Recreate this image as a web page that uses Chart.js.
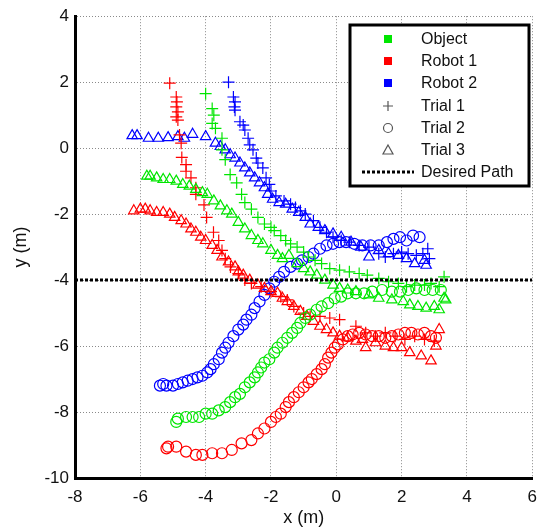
<!DOCTYPE html>
<html>
<head>
<meta charset="utf-8">
<script src="https://cdn.jsdelivr.net/npm/chart.js@4.4.1/dist/chart.umd.min.js"></script>
<style>
  html, body { margin: 0; padding: 0; background: #fff; }
  #wrap { width: 546px; height: 529px; }
</style>
</head>
<body>
<div id="wrap"><canvas id="trajChart"></canvas></div>
<script>
// Axis ticks
const xTicks = [-8, -6, -4, -2, 0, 2, 4, 6];
const yTicks = [-10, -8, -6, -4, -2, 0, 2, 4];
const desiredPathY = -4;

// Object (green) - trials 1..3, [x, y] in metres
const objTrial1 = [[-4.0,1.65],[-3.8,1.2],[-3.75,1.0],[-3.8,0.75],[-3.7,0.6],[-3.5,0.3],[-3.5,-0.05],[-3.4,-0.35],[-3.25,-0.8],[-3.05,-1.05],[-2.9,-1.4],[-2.8,-1.65],[-2.6,-1.85],[-2.4,-2.1],[-2.2,-2.3],[-2.0,-2.4],[-1.9,-2.5],[-1.7,-2.65],[-1.55,-2.8],[-1.4,-2.9],[-1.2,-3.0],[-1.0,-3.15],[-0.85,-3.3],[-0.65,-3.4],[-0.45,-3.5],[-0.2,-3.65],[0.1,-3.7],[0.4,-3.75],[0.7,-3.8],[0.95,-3.85],[1.3,-3.95],[1.6,-4.05],[1.9,-4.1],[2.15,-4.2],[2.4,-4.15],[2.7,-4.15],[2.9,-4.1],[3.15,-4.2],[3.3,-3.9]];
const objTrial2 = [[-4.9,-8.3],[-4.85,-8.2],[-4.6,-8.15],[-4.4,-8.15],[-4.2,-8.15],[-4.0,-8.05],[-3.8,-8.05],[-3.6,-7.95],[-3.4,-7.85],[-3.25,-7.7],[-3.1,-7.55],[-2.95,-7.45],[-2.8,-7.25],[-2.65,-7.1],[-2.5,-6.95],[-2.4,-6.8],[-2.3,-6.65],[-2.2,-6.5],[-2.05,-6.4],[-1.9,-6.2],[-1.8,-6.05],[-1.65,-5.9],[-1.5,-5.75],[-1.35,-5.6],[-1.2,-5.45],[-1.1,-5.3],[-0.95,-5.15],[-0.8,-5.05],[-0.6,-4.9],[-0.45,-4.8],[-0.25,-4.7],[-0.05,-4.55],[0.15,-4.5],[0.35,-4.4],[0.6,-4.4],[0.85,-4.4],[1.1,-4.35],[1.4,-4.3],[1.7,-4.35],[1.95,-4.35],[2.2,-4.3],[2.45,-4.25],[2.7,-4.3],[2.95,-4.3],[3.2,-4.3]];
const objTrial3 = [[-5.8,-0.85],[-5.7,-0.85],[-5.5,-0.9],[-5.3,-0.95],[-5.1,-0.95],[-4.9,-1.0],[-4.7,-1.1],[-4.5,-1.15],[-4.3,-1.25],[-4.1,-1.35],[-3.95,-1.4],[-3.75,-1.6],[-3.55,-1.75],[-3.35,-1.9],[-3.2,-2.0],[-3.0,-2.25],[-2.8,-2.45],[-2.6,-2.65],[-2.4,-2.8],[-2.25,-2.9],[-2.0,-3.1],[-1.8,-3.25],[-1.65,-3.35],[-1.45,-3.25],[-1.2,-3.5],[-1.0,-3.65],[-0.8,-3.75],[-0.6,-3.85],[-0.35,-4.0],[-0.1,-4.15],[0.1,-4.25],[0.35,-4.3],[0.6,-4.35],[1.0,-4.45],[1.3,-4.55],[1.7,-4.6],[2.05,-4.65],[2.25,-4.75],[2.5,-4.8],[2.75,-4.85],[3.0,-4.8],[3.15,-4.9],[3.3,-4.55],[3.35,-4.6]];

// Robot 1 (red)
const r1Trial1 = [[-5.1,1.97],[-4.9,1.55],[-4.88,1.4],[-4.9,1.25],[-4.85,1.1],[-4.9,0.95],[-4.85,0.85],[-4.8,0.4],[-4.75,0.15],[-4.73,-0.28],[-4.6,-0.5],[-4.6,-0.7],[-4.45,-0.9],[-4.3,-1.2],[-4.3,-1.4],[-4.05,-1.72],[-3.97,-2.1],[-3.76,-2.55],[-3.6,-2.8],[-3.5,-3.1],[-3.4,-3.35],[-3.24,-3.6],[-3.0,-3.8],[-2.8,-4.0],[-2.6,-4.1],[-2.3,-4.2],[-2.0,-4.35],[-1.7,-4.5],[-1.5,-4.6],[-1.3,-4.8],[-1.0,-5.0],[-0.8,-5.1],[-0.5,-5.1],[-0.2,-5.15],[0.1,-5.2],[0.6,-5.4],[0.9,-5.6],[1.2,-5.7],[1.5,-5.6],[1.8,-5.7],[2.1,-5.8],[2.4,-5.7],[2.7,-5.8],[3.0,-5.85]];
const r1Trial2 = [[-5.2,-9.1],[-5.15,-9.05],[-4.9,-9.05],[-4.6,-9.2],[-4.3,-9.3],[-4.1,-9.3],[-3.8,-9.25],[-3.5,-9.25],[-3.2,-9.15],[-2.9,-8.95],[-2.6,-8.85],[-2.4,-8.65],[-2.2,-8.5],[-2.0,-8.3],[-1.85,-8.15],[-1.7,-8.05],[-1.55,-7.85],[-1.45,-7.7],[-1.3,-7.55],[-1.15,-7.4],[-1.0,-7.25],[-0.85,-7.1],[-0.75,-7.0],[-0.6,-6.85],[-0.45,-6.7],[-0.35,-6.55],[-0.25,-6.35],[-0.15,-6.2],[-0.05,-6.05],[0.05,-5.95],[0.2,-5.8],[0.35,-5.7],[0.5,-5.65],[0.7,-5.6],[0.9,-5.65],[1.1,-5.7],[1.3,-5.7],[1.5,-5.75],[1.7,-5.7],[1.9,-5.65],[2.1,-5.6],[2.3,-5.6],[2.5,-5.65],[2.7,-5.6],[2.9,-5.7],[3.05,-5.75]];
const r1Trial3 = [[-6.2,-1.9],[-6.0,-1.85],[-5.85,-1.85],[-5.7,-1.9],[-5.5,-1.95],[-5.3,-1.95],[-5.1,-2.0],[-4.95,-2.1],[-4.75,-2.2],[-4.6,-2.3],[-4.45,-2.45],[-4.3,-2.55],[-4.15,-2.7],[-4.0,-2.8],[-3.8,-2.95],[-3.65,-3.1],[-3.5,-3.3],[-3.3,-3.45],[-3.1,-3.6],[-3.0,-3.75],[-2.85,-3.85],[-2.65,-4.0],[-2.4,-4.15],[-2.2,-4.25],[-2.0,-4.35],[-1.8,-4.4],[-1.65,-4.55],[-1.5,-4.65],[-1.3,-4.8],[-1.1,-4.95],[-0.9,-5.1],[-0.7,-5.25],[-0.5,-5.4],[-0.3,-5.5],[-0.1,-5.6],[0.1,-5.7],[0.35,-5.75],[0.6,-5.85],[0.8,-5.8],[0.9,-6.05],[1.2,-5.9],[1.5,-6.0],[1.75,-6.05],[2.0,-6.05],[2.25,-6.2],[2.6,-6.3],[2.9,-6.45],[3.05,-6.0],[3.15,-5.5]];

// Robot 2 (blue)
const r2Trial1 = [[-3.3,2.0],[-3.15,1.55],[-3.1,1.4],[-3.12,1.25],[-3.1,1.15],[-2.95,0.8],[-2.85,0.7],[-2.8,0.55],[-2.7,0.3],[-2.65,0.1],[-2.55,-0.05],[-2.45,-0.3],[-2.4,-0.45],[-2.25,-0.6],[-2.15,-0.9],[-2.05,-1.1],[-2.0,-1.3],[-1.85,-1.45],[-1.6,-1.6],[-1.4,-1.7],[-1.25,-1.8],[-1.1,-1.9],[-0.95,-2.0],[-0.7,-2.2],[-0.5,-2.4],[-0.3,-2.55],[-0.1,-2.7],[0.15,-2.8],[0.4,-2.85],[0.7,-2.95],[1.0,-3.0],[1.3,-3.2],[1.5,-3.3],[1.75,-3.2],[2.0,-3.15],[2.2,-3.2],[2.45,-3.25],[2.65,-3.2],[2.8,-3.05],[2.85,-3.35]];
const r2Trial2 = [[-5.4,-7.2],[-5.3,-7.15],[-5.2,-7.2],[-5.0,-7.2],[-4.85,-7.15],[-4.7,-7.1],[-4.55,-7.05],[-4.4,-7.0],[-4.25,-6.95],[-4.1,-6.9],[-3.95,-6.8],[-3.85,-6.7],[-3.75,-6.55],[-3.6,-6.4],[-3.5,-6.2],[-3.4,-6.05],[-3.3,-5.9],[-3.15,-5.7],[-3.0,-5.5],[-2.85,-5.35],[-2.75,-5.2],[-2.6,-5.05],[-2.5,-4.85],[-2.35,-4.65],[-2.2,-4.45],[-2.05,-4.25],[-1.9,-4.05],[-1.75,-3.9],[-1.6,-3.75],[-1.4,-3.6],[-1.2,-3.5],[-1.05,-3.4],[-0.85,-3.3],[-0.7,-3.2],[-0.5,-3.05],[-0.3,-2.95],[-0.1,-2.9],[0.1,-2.85],[0.3,-2.85],[0.55,-2.9],[0.8,-2.95],[1.05,-2.95],[1.3,-2.95],[1.55,-2.85],[1.75,-2.75],[1.95,-2.7],[2.15,-2.8],[2.35,-2.65],[2.55,-2.7]];
const r2Trial3 = [[-6.25,0.38],[-6.1,0.38],[-5.75,0.3],[-5.45,0.3],[-5.15,0.32],[-4.85,0.35],[-4.65,0.3],[-4.4,0.42],[-4.0,0.35],[-3.7,0.15],[-3.55,0.05],[-3.4,-0.05],[-3.25,-0.2],[-3.1,-0.3],[-2.95,-0.45],[-2.8,-0.6],[-2.65,-0.75],[-2.5,-0.9],[-2.35,-1.05],[-2.2,-1.2],[-2.1,-1.4],[-1.95,-1.55],[-1.75,-1.65],[-1.55,-1.7],[-1.35,-1.85],[-1.15,-1.95],[-0.95,-2.1],[-0.8,-2.3],[-0.55,-2.4],[-0.35,-2.5],[-0.1,-2.6],[0.15,-2.7],[0.45,-2.85],[0.75,-3.0],[1.0,-3.3],[1.3,-3.1],[1.6,-3.2],[1.9,-3.25],[2.15,-3.35],[2.4,-3.5],[2.7,-3.4],[2.75,-3.55]];

const GREEN = 'rgb(0,230,0)';
const RED = 'rgb(255,0,0)';
const BLUE = 'rgb(0,0,255)';
const FONT = '"Liberation Sans", Arial, sans-serif';

const toPts = arr => arr.map(p => ({ x: p[0], y: p[1] }));

function trialSet(label, pts, color, style) {
    return {
        label: label,
        data: toPts(pts),
        pointStyle: style,
        pointRadius: style === 'circle' ? 5.5 : 6,
        borderColor: color,
        backgroundColor: 'rgba(0,0,0,0)',
        borderWidth: 1.2,
        showLine: false
    };
}

// legend drawn like the MATLAB box
const boxLegend = {
    id: 'boxLegend',
    afterDraw(chart) {
        const c = chart.ctx;
        const bx = 350, by = 25, bw = 179, bh = 161;
        c.save();
        c.fillStyle = '#fff';
        c.fillRect(bx, by, bw, bh);
        c.lineWidth = 3;
        c.strokeStyle = '#000';
        c.strokeRect(bx, by, bw, bh);

        const mx = 388, tx = 421;
        const rows = [39, 61, 83, 106, 128, 150, 172];
        const items = ['Object', 'Robot 1', 'Robot 2', 'Trial 1', 'Trial 2', 'Trial 3', 'Desired Path'];
        c.font = '16px ' + FONT;
        c.fillStyle = '#111';
        c.textBaseline = 'middle';
        items.forEach((t, i) => c.fillText(t, tx, rows[i] + 1));

        // colour squares
        [GREEN, RED, BLUE].forEach((col, i) => {
            c.fillStyle = col;
            c.fillRect(mx - 4, rows[i] - 4, 8, 8);
        });
        // marker samples
        c.strokeStyle = '#555';
        c.lineWidth = 1.2;
        c.beginPath();
        c.moveTo(mx - 5, rows[3]); c.lineTo(mx + 5, rows[3]);
        c.moveTo(mx, rows[3] - 5); c.lineTo(mx, rows[3] + 5);
        c.stroke();
        c.beginPath();
        c.arc(mx, rows[4], 4.5, 0, Math.PI * 2);
        c.stroke();
        c.beginPath();
        c.moveTo(mx, rows[5] - 5); c.lineTo(mx + 5, rows[5] + 4); c.lineTo(mx - 5, rows[5] + 4);
        c.closePath();
        c.stroke();
        // dotted sample
        c.strokeStyle = '#000';
        c.lineWidth = 3;
        c.setLineDash([3, 2]);
        c.beginPath();
        c.moveTo(362, rows[6]); c.lineTo(414, rows[6]);
        c.stroke();
        c.restore();
    }
};

const datasets = [
    {
        label: 'Desired Path',
        type: 'line',
        data: [{ x: xTicks[0], y: desiredPathY }, { x: xTicks[xTicks.length - 1], y: desiredPathY }],
        borderColor: '#000',
        borderWidth: 3,
        borderDash: [3, 2],
        pointRadius: 0,
        fill: false
    },
    trialSet('Object T1', objTrial1, GREEN, 'cross'),
    trialSet('Object T2', objTrial2, GREEN, 'circle'),
    trialSet('Object T3', objTrial3, GREEN, 'triangle'),
    trialSet('Robot 1 T1', r1Trial1, RED, 'cross'),
    trialSet('Robot 1 T2', r1Trial2, RED, 'circle'),
    trialSet('Robot 1 T3', r1Trial3, RED, 'triangle'),
    trialSet('Robot 2 T1', r2Trial1, BLUE, 'cross'),
    trialSet('Robot 2 T2', r2Trial2, BLUE, 'circle'),
    trialSet('Robot 2 T3', r2Trial3, BLUE, 'triangle')
];

const gridOpts = { color: '#8a8a8a', lineWidth: 1, drawTicks: false };
const borderOpts = { color: '#000', width: 3, dash: [1, 2] };

new Chart(document.getElementById('trajChart'), {
    type: 'scatter',
    data: { datasets: datasets },
    options: {
        responsive: true,
        maintainAspectRatio: false,
        animation: false,
        layout: { padding: { top: 16, right: 9, left: 0, bottom: 0 } },
        plugins: {
            legend: { display: false },
            tooltip: { enabled: false }
        },
        scales: {
            x: {
                type: 'linear',
                min: xTicks[0],
                max: xTicks[xTicks.length - 1],
                afterBuildTicks: s => { s.ticks = xTicks.map(v => ({ value: v })); },
                afterFit: s => { s.height = 51; },
                grid: gridOpts,
                border: borderOpts,
                ticks: { color: '#111', padding: 9, font: { family: FONT, size: 17 } },
                title: { display: true, text: 'x (m)', color: '#111', padding: { top: 0, bottom: 0 }, font: { family: FONT, size: 18 } }
            },
            y: {
                type: 'linear',
                min: yTicks[0],
                max: yTicks[yTicks.length - 1],
                afterBuildTicks: s => { s.ticks = yTicks.map(v => ({ value: v })); },
                afterFit: s => { s.width = 75; },
                grid: gridOpts,
                border: borderOpts,
                ticks: { color: '#111', padding: 6, font: { family: FONT, size: 17 } },
                title: { display: true, text: 'y (m)', color: '#111', padding: { top: 10, bottom: 0 }, font: { family: FONT, size: 18 } }
            }
        }
    },
    plugins: [boxLegend]
});
</script>
</body>
</html>
